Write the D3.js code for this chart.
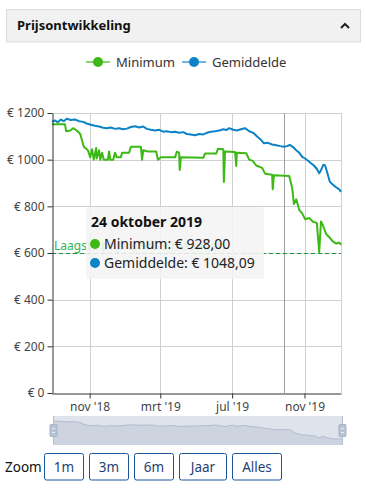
<!DOCTYPE html>
<html>
<head>
<meta charset="utf-8">
<script src="https://cdn.jsdelivr.net/npm/d3@7"></script>
<style>
  html, body { margin: 0; padding: 0; background: #fff; }
  svg { display: block; font-family: "Noto Sans", "Open Sans", sans-serif; }
</style>
</head>
<body>
<svg id="chart" width="366" height="492"></svg>
<script>
// ---------- DATA ----------
const panelTitle = "Prijsontwikkeling";
const seriesNames = ["Minimum", "Gemiddelde"];
const seriesColors = ["#3cb914", "#0b83c6"];

const minimumSeries = [
  ["2018-08-29",1152],["2018-09-20",1152],["2018-09-22",1122],["2018-09-29",1125],
  ["2018-10-04",1135],["2018-10-10",1125],["2018-10-16",1110],["2018-10-22",1055],
  ["2018-10-29",1040],["2018-11-02",1010],["2018-11-05",1045],["2018-11-08",1000],
  ["2018-11-12",1050],["2018-11-13",1005],["2018-11-17",1040],["2018-11-19",1000],
  ["2018-11-22",1030],["2018-11-25",1000],["2018-12-02",1000],["2018-12-04",1035],
  ["2018-12-06",1000],["2018-12-11",1000],["2018-12-14",1030],["2018-12-17",1010],
  ["2018-12-24",1010],["2018-12-26",1030],["2019-01-07",1030],["2019-01-10",1055],
  ["2019-01-27",1055],["2019-01-29",1000],["2019-01-31",1040],["2019-02-08",1035],
  ["2019-02-22",1035],["2019-02-25",1000],["2019-03-02",1010],["2019-03-26",1010],
  ["2019-03-29",1034],["2019-04-02",1030],["2019-04-03",956],["2019-04-05",1010],
  ["2019-05-13",1008],["2019-05-16",1026],["2019-06-04",1026],["2019-06-07",1047],
  ["2019-06-16",1045],["2019-06-17",904],["2019-06-19",1035],["2019-07-06",1033],
  ["2019-07-08",973],["2019-07-09",1030],["2019-07-25",1028],["2019-07-30",1000],
  ["2019-08-05",995],["2019-08-11",975],["2019-08-21",965],["2019-08-26",940],
  ["2019-09-07",935],["2019-09-08",873],["2019-09-10",933],["2019-10-06",930],
  ["2019-10-11",880],["2019-10-14",810],["2019-10-18",830],["2019-10-23",785],
  ["2019-10-28",770],["2019-11-02",745],["2019-11-09",750],["2019-11-15",735],
  ["2019-11-22",728],["2019-11-26",604],["2019-11-29",735],["2019-12-02",720],
  ["2019-12-08",680],["2019-12-14",665],["2019-12-19",650],["2019-12-25",640],
  ["2019-12-30",645],["2020-01-02",635]
];

const gemiddeldeSeries = [
  ["2018-08-29",1162],["2018-09-03",1168],["2018-09-08",1160],["2018-09-13",1172],
  ["2018-09-18",1165],["2018-09-23",1175],["2018-09-30",1170],["2018-10-07",1172],
  ["2018-10-14",1165],["2018-10-21",1162],["2018-10-27",1155],["2018-11-03",1150],
  ["2018-11-10",1145],["2018-11-17",1142],["2018-11-24",1137],["2018-11-30",1135],
  ["2018-12-07",1138],["2018-12-14",1132],["2018-12-21",1135],["2018-12-28",1130],
  ["2019-01-03",1133],["2019-01-10",1140],["2019-01-17",1143],["2019-01-24",1138],
  ["2019-01-31",1142],["2019-02-06",1132],["2019-02-13",1128],["2019-02-20",1125],
  ["2019-02-27",1128],["2019-03-06",1120],["2019-03-12",1122],["2019-03-19",1118],
  ["2019-03-26",1120],["2019-04-02",1115],["2019-04-09",1118],["2019-04-15",1110],
  ["2019-04-22",1108],["2019-04-29",1105],["2019-05-06",1110],["2019-05-13",1108],
  ["2019-05-19",1115],["2019-05-26",1120],["2019-06-02",1122],["2019-06-09",1125],
  ["2019-06-16",1130],["2019-06-21",1127],["2019-06-26",1135],["2019-07-03",1128],
  ["2019-07-09",1125],["2019-07-16",1130],["2019-07-23",1135],["2019-07-30",1122],
  ["2019-08-06",1115],["2019-08-12",1100],["2019-08-19",1085],["2019-08-24",1070],
  ["2019-08-31",1072],["2019-09-07",1065],["2019-09-14",1062],["2019-09-21",1058],
  ["2019-09-27",1055],["2019-10-02",1058],["2019-10-07",1063],["2019-10-12",1055],
  ["2019-10-18",1040],["2019-10-23",1030],["2019-10-28",1012],["2019-11-02",1005],
  ["2019-11-07",995],["2019-11-12",985],["2019-11-17",975],["2019-11-22",960],
  ["2019-11-26",942],["2019-11-29",955],["2019-12-03",978],["2019-12-06",975],
  ["2019-12-09",950],["2019-12-14",905],["2019-12-19",893],["2019-12-24",883],
  ["2019-12-30",873],["2020-01-02",862]
];

const yTickValues = [0, 200, 400, 600, 800, 1000, 1200];
const xTickDates = ["2018-11-01", "2019-03-01", "2019-07-01", "2019-11-01"];
const xTickLabels = ["nov '18", "mrt '19", "jul '19", "nov '19"];
const xDomain = ["2018-08-29", "2020-01-02"];

const plotLineValue = 600;
const plotLineLabel = "Laagste prijs sinds 3 maanden";

const crosshairDate = "2019-09-28";
const tooltipTitle = "24 oktober 2019";
const tooltipValues = ["€ 928,00", "€ 1048,09"];

const zoomLabel = "Zoom";
const zoomButtons = ["1m", "3m", "6m", "Jaar", "Alles"];

// ---------- SETUP ----------
const parse = d3.timeParse("%Y-%m-%d");
const minData = minimumSeries.map(d => ({date: parse(d[0]), value: d[1]}));
const avgData = gemiddeldeSeries.map(d => ({date: parse(d[0]), value: d[1]}));

const svg = d3.select("#chart");

const plot = {left: 52, right: 341, top: 113, bottom: 393};

const x = d3.scaleTime().domain(xDomain.map(parse)).range([plot.left, plot.right]);
const y = d3.scaleLinear().domain([0, 1200]).range([plot.bottom, plot.top]);

// ---------- HEADER ----------
svg.append("rect").attr("x", 6.5).attr("y", 9.5).attr("width", 354).attr("height", 32.5)
  .attr("fill", "#f1f1f1").attr("stroke", "#dcdcdc");
svg.append("text").attr("x", 17).attr("y", 29.5).text(panelTitle)
  .attr("font-size", 13).attr("font-weight", "bold").attr("fill", "#111");
svg.append("path").attr("d", "M341,28 L345,24 L349,28")
  .attr("fill", "none").attr("stroke", "#222").attr("stroke-width", 2);

// ---------- LEGEND ----------
const legendItems = [{x: 86, tx: 116}, {x: 182, tx: 212}];
seriesNames.forEach((name, i) => {
  const g = svg.append("g");
  const lx = legendItems[i].x;
  g.append("line").attr("x1", lx).attr("x2", lx + 24).attr("y1", 62).attr("y2", 62)
    .attr("stroke", seriesColors[i]).attr("stroke-opacity", 0.6).attr("stroke-width", 2);
  g.append("circle").attr("cx", lx + 12).attr("cy", 62).attr("r", 5).attr("fill", seriesColors[i]);
  g.append("text").attr("x", legendItems[i].tx).attr("y", 66.5).text(name)
    .attr("font-size", 13).attr("fill", "#333");
});

// ---------- GRID ----------
const grid = svg.append("g");
grid.selectAll("line.h").data(yTickValues.filter(v => v > 0)).join("line")
  .attr("x1", plot.left).attr("x2", plot.right)
  .attr("y1", d => Math.round(y(d)) + 0.5).attr("y2", d => Math.round(y(d)) + 0.5)
  .attr("stroke", "#d0d0d0");
grid.selectAll("line.v").data(xTickDates.map(parse)).join("line")
  .attr("x1", d => Math.round(x(d)) + 0.5).attr("x2", d => Math.round(x(d)) + 0.5)
  .attr("y1", plot.top).attr("y2", plot.bottom)
  .attr("stroke", "#d0d0d0");
grid.append("line").attr("x1", plot.right + 0.5).attr("x2", plot.right + 0.5)
  .attr("y1", plot.top).attr("y2", plot.bottom).attr("stroke", "#d0d0d0");

// crosshair
svg.append("line")
  .attr("x1", Math.round(x(parse(crosshairDate))) + 0.5).attr("x2", Math.round(x(parse(crosshairDate))) + 0.5)
  .attr("y1", plot.top).attr("y2", plot.bottom).attr("stroke", "#a0a0a0");

// ---------- SERIES ----------
const line = d3.line().x(d => x(d.date)).y(d => y(d.value));
svg.append("path").datum(avgData).attr("d", line)
  .attr("fill", "none").attr("stroke", seriesColors[1]).attr("stroke-width", 2).attr("stroke-linejoin", "round");
svg.append("path").datum(minData).attr("d", line)
  .attr("fill", "none").attr("stroke", seriesColors[0]).attr("stroke-width", 2).attr("stroke-linejoin", "round");

// plot line 600
svg.append("line").attr("x1", plot.left).attr("x2", plot.right)
  .attr("y1", Math.round(y(plotLineValue)) + 0.5).attr("y2", Math.round(y(plotLineValue)) + 0.5)
  .attr("stroke", "#16963c").attr("stroke-dasharray", "4,3");
svg.append("text").attr("x", 54).attr("y", y(plotLineValue) - 3.5).text(plotLineLabel)
  .attr("font-size", 12).attr("fill", "#2fb550");

// ---------- AXES ----------
const yAxis = d3.axisLeft(y).tickValues(yTickValues).tickFormat(v => "€ " + v).tickSize(5).tickSizeOuter(0).tickPadding(3);
const gy = svg.append("g").attr("transform", `translate(${plot.left + 0.5},0)`).call(yAxis);
gy.select(".domain").attr("stroke", "#333");
gy.selectAll(".tick line").attr("stroke", "#333");
gy.selectAll(".tick text").attr("font-size", 12).attr("fill", "#444").attr("font-family", "Noto Sans");

const xAxis = d3.axisBottom(x).tickValues(xTickDates.map(parse))
  .tickFormat((d, i) => xTickLabels[i]).tickSize(5).tickSizeOuter(0).tickPadding(4);
const gx = svg.append("g").attr("transform", `translate(0,${plot.bottom + 0.5})`).call(xAxis);
gx.select(".domain").attr("stroke", "#333");
gx.selectAll(".tick line").attr("stroke", "#333");
gx.selectAll(".tick text").attr("font-size", 12).attr("fill", "#444").attr("font-family", "Noto Sans");

// ---------- TOOLTIP ----------
const tt = svg.append("g");
tt.append("rect").attr("x", 86).attr("y", 207).attr("width", 178).attr("height", 72).attr("rx", 3)
  .attr("fill", "#f4f4f4").attr("fill-opacity", 0.88);
tt.append("text").attr("x", 91).attr("y", 226.5).text(tooltipTitle)
  .attr("font-size", 14).attr("font-weight", "bold").attr("fill", "#111");
seriesNames.forEach((name, i) => {
  const cy = 244 + i * 19;
  tt.append("circle").attr("cx", 95).attr("cy", cy).attr("r", 5).attr("fill", seriesColors[i]);
  tt.append("text").attr("x", 104).attr("y", cy + 5).text(name + ": " + tooltipValues[i])
    .attr("font-size", 14).attr("fill", "#222");
});

// ---------- NAVIGATOR ----------
const nav = {left: 53, right: 342, top: 416, bottom: 445};
const xn = d3.scaleTime().domain(xDomain.map(parse)).range([nav.left, nav.right]);
const weekly = Array.from(d3.rollup(minData, v => d3.mean(v, d => d.value), d => +d3.timeWeek.floor(d.date)))
  .map(([k, v]) => ({date: new Date(k), value: v})).sort((a, b) => a.date - b.date);
weekly[0].date = minData[0].date;
weekly[weekly.length - 1].date = minData[minData.length - 1].date;
const yn = d3.scaleLinear().domain(d3.extent(weekly, d => d.value)).range([439, 421]);
svg.append("rect").attr("x", nav.left).attr("y", nav.top).attr("width", nav.right - nav.left)
  .attr("height", nav.bottom - nav.top).attr("fill", "#dfe4ec");
const area = d3.area().x(d => xn(d.date)).y0(nav.bottom).y1(d => yn(d.value));
svg.append("path").datum(weekly).attr("d", area).attr("fill", "#cdd4df");
svg.append("path").datum(weekly).attr("d", d3.line().x(d => xn(d.date)).y(d => yn(d.value)))
  .attr("fill", "none").attr("stroke", "#b0bccf").attr("stroke-width", 1);
[nav.left, nav.right].forEach(hx => {
  svg.append("line").attr("x1", hx + 0.5).attr("x2", hx + 0.5).attr("y1", nav.top).attr("y2", nav.bottom)
    .attr("stroke", "#b3bfd3");
  svg.append("rect").attr("x", hx - 3).attr("y", 424.5).attr("width", 7).attr("height", 12).attr("rx", 1)
    .attr("fill", "#b8c3d6").attr("stroke", "#a6b3c9");
  [428.5, 432.5].forEach(ly => svg.append("line").attr("x1", hx - 1).attr("x2", hx + 2)
    .attr("y1", ly).attr("y2", ly).attr("stroke", "#e8ecf2"));
});

// ---------- ZOOM BUTTONS ----------
svg.append("text").attr("x", 5).attr("y", 471.5).text(zoomLabel).attr("font-size", 13.5).attr("fill", "#111");
const btnX = [44.5, 89.5, 134.5, 179.5, 232.5];
const btnW = [39, 39, 39, 47, 49];
zoomButtons.forEach((b, i) => {
  svg.append("rect").attr("x", btnX[i]).attr("y", 453.5).attr("width", btnW[i]).attr("height", 26.5).attr("rx", 2)
    .attr("fill", "#fff").attr("stroke", "#1b5598");
  svg.append("text").attr("x", btnX[i] + btnW[i] / 2).attr("y", 471.5).attr("text-anchor", "middle")
    .text(b).attr("font-size", 13.5).attr("fill", "#1e3f73");
});
</script>
</body>
</html>
